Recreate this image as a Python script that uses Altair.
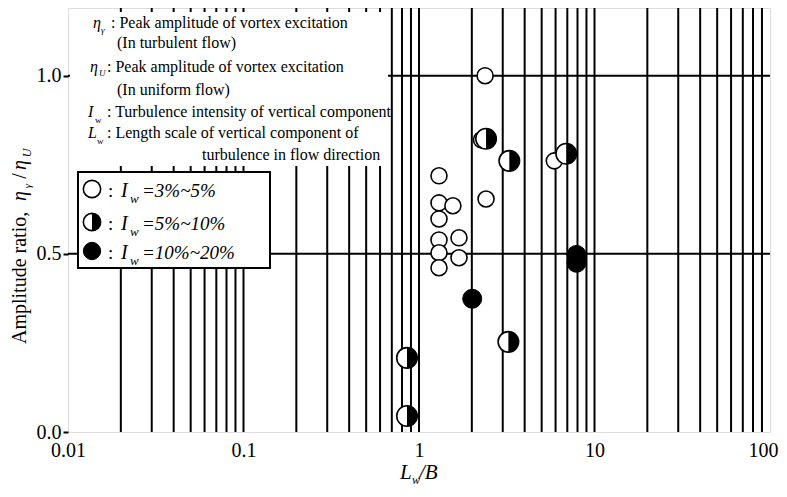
import altair as alt
import pandas as pd

FONT = "Liberation Serif"

# ---- data ----
open_x = [1.30, 1.30, 1.56, 1.30, 1.30, 1.69, 1.30, 1.69, 1.30, 2.41, 2.38, 5.9, 2.27]
open_y = [0.719, 0.643, 0.635, 0.598, 0.539, 0.545, 0.503, 0.489, 0.461, 0.654, 1.0, 0.761, 0.82]
half_x = [2.41, 3.27, 6.9, 3.23, 0.854, 0.854]
half_y = [0.823, 0.761, 0.781, 0.253, 0.208, 0.045]
full_x = [2.01, 7.9, 7.9]
full_y = [0.374, 0.497, 0.475]
x_ticks = [0.01, 0.1, 1, 10, 100]
y_ticks = [0.0, 0.5, 1.0]
hline_y = [0.5, 1.0]
grid_x = [k * 10.0 ** e for e in (-2, -1, 0, 1) for k in range(2, 10)] + [0.1, 1.0, 10.0]

W, H = 702, 424

xscale = alt.Scale(type="log", domain=[0.01, 100], nice=False)
yscale = alt.Scale(domain=[0, 1.19], nice=False, zero=False)
xaxis = alt.Axis(values=x_ticks, title=None, grid=False, ticks=False, labelPadding=8,
                 labelFont=FONT, labelFontSize=20, labelColor="black",
                 labelExpr="datum.value >= 1 ? format(datum.value, 'd') : (datum.value >= 0.1 ? '0.1' : '0.01')",
                 labelOffset=alt.expr("datum.value >= 100 ? -7 : 0"),
                 domain=False, labelFlush=False, labelOverlap=False)
yaxis = alt.Axis(values=y_ticks, title=None, grid=False, format=".1f", tickSize=5,
                 tickColor="black", tickWidth=2, labelPadding=2, labelFont=FONT,
                 labelFontSize=20, labelColor="black", domain=False)


def X():
    return alt.X("x:Q", scale=xscale, axis=xaxis)


def Y():
    return alt.Y("y:Q", scale=yscale, axis=yaxis)


df_grid = pd.DataFrame({"x": grid_x})
df_h = pd.DataFrame({"y": hline_y})
df_open = pd.DataFrame({"x": open_x, "y": open_y})
df_half = pd.DataFrame({"x": half_x, "y": half_y})
df_full = pd.DataFrame({"x": full_x, "y": full_y})

ONE = alt.Data(values=[{"a": 0}])
HALF_PATH = "M0,-1A1,1,0,0,1,0,1Z"

layers = []
layers.append(alt.Chart(df_grid).mark_rule(color="black", strokeWidth=2).encode(x=X()))
layers.append(alt.Chart(df_h).mark_rule(color="black", strokeWidth=2).encode(y=Y()))

# white background behind the definitions
layers.append(alt.Chart(ONE).mark_rect(fill="white").encode(
    x=alt.value(2), x2=alt.value(320), y=alt.value(4), y2=alt.value(158)))
# legend box
layers.append(alt.Chart(ONE).mark_rect(fill="white", stroke="black", strokeWidth=2).encode(
    x=alt.value(10), x2=alt.value(202), y=alt.value(164), y2=alt.value(260)))

# data points
layers.append(alt.Chart(df_open).mark_point(shape="circle", filled=True, fill="white", stroke="black",
                                             strokeWidth=1.6, size=256, opacity=1).encode(x=X(), y=Y()))
layers.append(alt.Chart(df_half).mark_point(shape="circle", filled=True, fill="white", stroke="black",
                                             strokeWidth=1.6, size=420, opacity=1).encode(x=X(), y=Y()))
layers.append(alt.Chart(df_half).mark_point(shape=HALF_PATH, filled=True, fill="black", strokeWidth=0,
                                             size=420, opacity=1).encode(x=X(), y=Y()))
layers.append(alt.Chart(df_full).mark_point(shape="circle", filled=True, fill="black", stroke="black",
                                             strokeWidth=1, size=361, opacity=1).encode(x=X(), y=Y()))


def txt(s, x, y, size=16, italic=False, align="left", baseline="alphabetic", angle=0):
    return alt.Chart(ONE).mark_text(text=s, font=FONT, fontSize=size,
                                    fontStyle="italic" if italic else "normal",
                                    align=align, baseline=baseline, angle=angle,
                                    color="black").encode(x=alt.value(x), y=alt.value(y))


# definitions block
layers += [
    txt("η", 25, 20, italic=True),
    txt("γ", 33, 25, size=9, italic=True),
    txt(": Peak amplitude of vortex excitation", 43, 20),
    txt("(In turbulent flow)", 49, 40),
    txt("η", 22, 64, italic=True),
    txt("U", 31, 68, size=9, italic=True),
    txt(": Peak amplitude of vortex excitation", 39, 64),
    txt("(In uniform flow)", 49, 87),
    txt("I", 20, 109, italic=True),
    txt("w", 27, 115, size=9),
    txt(": Turbulence intensity of vertical component", 39, 109),
    txt("L", 20, 130, italic=True),
    txt("w", 29, 136, size=9),
    txt(": Length scale of vertical component of", 39, 130),
    txt("turbulence in flow direction", 134, 152),
]

# legend content
leg_y = [181, 214, 243]
leg_txt = ["=3%~5%", "=5%~10%", "=10%~20%"]
layers.append(alt.Chart(ONE).mark_point(shape="circle", filled=True, fill="white", stroke="black",
                                         strokeWidth=1.6, size=300, opacity=1).encode(
    x=alt.value(24), y=alt.value(leg_y[0])))
layers.append(alt.Chart(ONE).mark_point(shape="circle", filled=True, fill="white", stroke="black",
                                         strokeWidth=1.6, size=300, opacity=1).encode(
    x=alt.value(24), y=alt.value(leg_y[1])))
layers.append(alt.Chart(ONE).mark_point(shape=HALF_PATH, filled=True, fill="black", strokeWidth=0,
                                         size=300, opacity=1).encode(
    x=alt.value(24), y=alt.value(leg_y[1])))
layers.append(alt.Chart(ONE).mark_point(shape="circle", filled=True, fill="black", stroke="black",
                                         strokeWidth=1, size=300, opacity=1).encode(
    x=alt.value(24), y=alt.value(leg_y[2])))
for yy, t in zip(leg_y, leg_txt):
    b = yy + 8
    layers += [
        txt(":", 40, b, size=19),
        txt("I", 53, b, size=20, italic=True),
        txt("w", 62, b + 6, size=13, italic=True),
        txt(t, 74, b, size=19, italic=True),
    ]

# x axis title  L_w/B
layers += [
    txt("L", 332, 471, size=21, italic=True),
    txt("w", 344, 476, size=12, italic=True),
    txt("/B", 351, 471, size=21, italic=True),
]
# y axis title  Amplitude ratio, η_γ / η_U
layers += [
    txt("Amplitude ratio,", -42, 336, size=20, angle=270),
    txt("η", -42, 188, size=20, italic=True, angle=270, align="center"),
    txt("γ", -37, 178, size=11, italic=True, angle=270, align="center"),
    txt("/", -42, 168, size=20, angle=270, align="center"),
    txt("η", -42, 157, size=20, italic=True, angle=270, align="center"),
    txt("U", -37, 145, size=12, italic=True, angle=270, align="center"),
]

chart = alt.layer(*layers).properties(
    width=W, height=H,
    autosize=alt.AutoSizeParams(type="none"),
    padding={"left": 60, "top": 0, "right": 9, "bottom": 57},
).configure_view(stroke="black", strokeWidth=2).configure(background="white")

chart.save("out.html", embed_options={"renderer": "svg", "actions": False})
